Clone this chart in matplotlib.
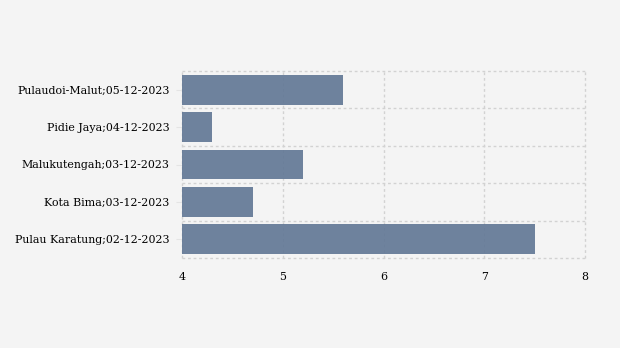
import matplotlib
matplotlib.use("Agg")
import matplotlib.pyplot as plt
import numpy as np

categories = ["Pulaudoi-Malut;05-12-2023", "Pidie Jaya;04-12-2023", "Malukutengah;03-12-2023",
              "Kota Bima;03-12-2023", "Pulau Karatung;02-12-2023"]
values = [5.6, 4.3, 5.2, 4.7, 7.5]
xticks = [4, 5, 6, 7, 8]

plt.rcParams['font.family'] = ['DejaVu Serif']
fig = plt.figure(figsize=(6.2, 3.48), dpi=100, facecolor='#f4f4f4')
ax = fig.add_axes([182/620, 1-258/348, (585-182)/620, (258-71)/348])
ax.set_facecolor('#f4f4f4')

y = np.arange(len(categories))
ax.barh(y, values, height=0.8, color='#607694', alpha=0.9, zorder=2)
ax.set_xlim(4, 8)
ax.set_ylim(len(categories)-0.5, -0.5)
ax.set_yticks(y)
ax.set_yticklabels(categories, fontsize=7.9)
ax.set_xticks(xticks)
ax.set_xticklabels([str(t) for t in xticks], fontsize=7.9)
ax.tick_params(axis='y', which='major', length=4, color='#e4e4e4', pad=5)
ax.tick_params(axis='x', length=0, pad=10)
ax.grid(False)
gkw = dict(linestyle=(0, (2, 2)), color='#d2d2d2', linewidth=1.0, zorder=1, clip_on=False)
for t in xticks:
    ax.axvline(t, **gkw)
for b in np.arange(-0.5, len(categories)):
    ax.axhline(b, **gkw)
for s in ax.spines.values():
    s.set_visible(False)

fig.savefig('out.png', dpi=100, facecolor=fig.get_facecolor())
